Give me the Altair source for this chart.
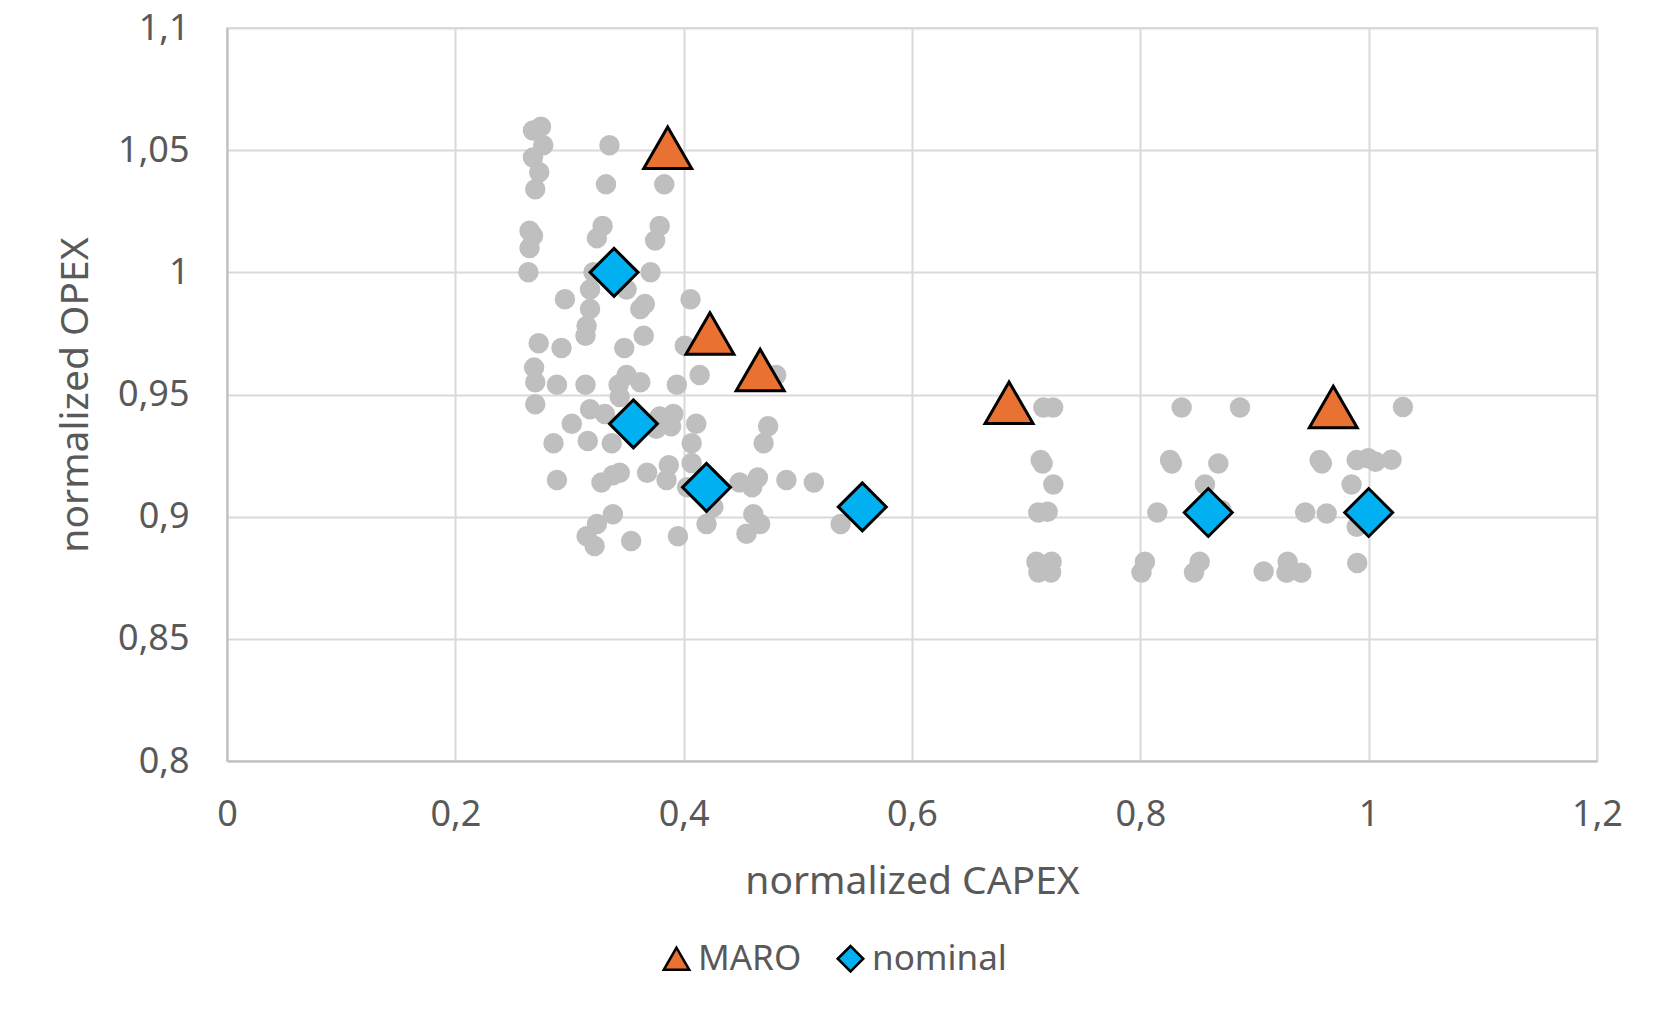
import altair as alt
import pandas as pd

# Gray cloud (normalized CAPEX, normalized OPEX)
gray_x = [
    0.275, 0.268, 0.277, 0.268, 0.2735, 0.270, 0.265, 0.268, 0.265, 0.264,
    0.273, 0.269, 0.270, 0.270,
    0.335, 0.332, 0.329, 0.324, 0.321, 0.318, 0.296, 0.318, 0.315, 0.314,
    0.293, 0.289, 0.314, 0.318, 0.331, 0.302, 0.316, 0.337, 0.286, 0.289,
    0.328, 0.338, 0.344, 0.338, 0.324, 0.315, 0.322, 0.354,
    0.383, 0.379, 0.375, 0.371, 0.350, 0.366, 0.362, 0.406, 0.348, 0.365,
    0.401, 0.414, 0.350, 0.343, 0.362, 0.344, 0.394, 0.379, 0.391, 0.376,
    0.389, 0.411, 0.407, 0.407, 0.368, 0.387, 0.385, 0.403, 0.395, 0.420,
    0.426,
    0.474, 0.470, 0.481, 0.449, 0.465, 0.460, 0.461, 0.467, 0.455, 0.490,
    0.514, 0.5375,
    0.715, 0.7236, 0.7127, 0.7144, 0.7238, 0.7106, 0.7188, 0.709, 0.7223,
    0.7107, 0.7218,
    0.8362, 0.8873, 0.826, 0.8276, 0.8683, 0.8566, 0.8149, 0.8711, 0.804,
    0.801, 0.852, 0.847,
    0.908, 0.929, 0.928, 0.941, 0.957, 0.959, 0.9895, 0.9997, 1.006, 1.020,
    1.030, 0.985, 0.9444, 0.9632, 0.9895, 0.990,
]
gray_y = [
    1.0596, 1.058, 1.052, 1.047, 1.041, 1.034, 1.017, 1.015, 1.010, 1.000,
    0.971, 0.961, 0.955, 0.946,
    1.052, 1.036, 1.019, 1.014, 1.000, 0.993, 0.989, 0.985, 0.978, 0.974,
    0.969, 0.954, 0.954, 0.944, 0.942, 0.938, 0.931, 0.930, 0.930, 0.915,
    0.914, 0.917, 0.918, 0.901, 0.897, 0.892, 0.888, 0.890,
    1.036, 1.019, 1.013, 1.000, 0.993, 0.987, 0.985, 0.989, 0.969, 0.974,
    0.970, 0.958, 0.958, 0.954, 0.955, 0.949, 0.954, 0.941, 0.942, 0.936,
    0.937, 0.938, 0.930, 0.922, 0.918, 0.921, 0.915, 0.912, 0.892, 0.897,
    0.904,
    0.937, 0.930, 0.958, 0.914, 0.916, 0.912, 0.901, 0.897, 0.893, 0.915,
    0.914, 0.897,
    0.9447, 0.9447, 0.9232, 0.9218, 0.9132, 0.9017, 0.902, 0.8815, 0.8815,
    0.8771, 0.8771,
    0.9447, 0.9447, 0.9232, 0.9218, 0.9218, 0.9132, 0.9017, 0.9027, 0.8815,
    0.8771, 0.8815, 0.8771,
    0.8776, 0.8815, 0.877, 0.877, 0.9232, 0.9218, 0.9232, 0.9239, 0.9225, 0.9233,
    0.9449, 0.9132, 0.9017, 0.9013, 0.8959, 0.881,
]

maro_x = [0.386, 0.423, 0.467, 0.685, 0.969]
maro_y = [1.051, 0.975, 0.960, 0.9466, 0.9449]

nominal_x = [0.339, 0.356, 0.420, 0.5565, 0.8595, 1.000]
nominal_y = [1.000, 0.938, 0.912, 0.904, 0.9017, 0.9017]

series_names = ["MARO", "nominal"]
series_colors = ["#E97132", "#00B0F0"]
series_shapes = ["triangle-up", "diamond"]
series_strokes = ["black", "black"]

x_ticks = [0, 0.2, 0.4, 0.6, 0.8, 1.0, 1.2]
y_ticks = [0.8, 0.85, 0.9, 0.95, 1.0, 1.05, 1.1]

gray_df = pd.DataFrame({"capex": gray_x, "opex": gray_y})
mk_df = pd.DataFrame({
    "capex": maro_x + nominal_x,
    "opex": maro_y + nominal_y,
    "series": ["MARO"] * len(maro_x) + ["nominal"] * len(nominal_x),
})

FONT = "Noto Sans"
TXT = "#595959"

xscale = alt.Scale(domain=[0, 1.2], nice=False, zero=False)
yscale = alt.Scale(domain=[0.8, 1.1], nice=False, zero=False)

xaxis = alt.Axis(
    title="normalized CAPEX", values=x_ticks, format="~g",
    labelExpr="replace(datum.label, '.', ',')",
    grid=True, gridColor="#D9D9D9", gridWidth=2,
    domainColor="#BFBFBF", domainWidth=2, ticks=False,
    labelPadding=36, labelFontSize=36, labelColor=TXT, labelFont=FONT,
    titleFontSize=39, titleColor=TXT, titleFont=FONT, titleFontWeight="normal",
    titlePadding=30, labelFlush=False,
)
yaxis = alt.Axis(
    title="normalized OPEX", values=y_ticks, format="~g",
    labelExpr="replace(datum.label, '.', ',')",
    grid=True, gridColor="#D9D9D9", gridWidth=2,
    domainColor="#BFBFBF", domainWidth=2, ticks=False,
    labelPadding=38, labelFontSize=36, labelColor=TXT, labelFont=FONT,
    titleFontSize=39, titleColor=TXT, titleFont=FONT, titleFontWeight="normal",
    titlePadding=22, labelFlush=False,
)

gray = alt.Chart(gray_df).mark_point(
    shape="circle", filled=True, color="#BFBFBF", opacity=1, size=420
).encode(
    x=alt.X("capex:Q", scale=xscale, axis=xaxis),
    y=alt.Y("opex:Q", scale=yscale, axis=yaxis),
)

legend = alt.Legend(
    title=None, orient="none", direction="horizontal",
    legendX=432, legendY=913,
    labelFontSize=35, labelColor=TXT, labelFont=FONT,
    symbolSize=650, symbolStrokeWidth=2.5,
    symbolOpacity=1, columnPadding=30, labelOffset=4,
)

markers = alt.Chart(mk_df).mark_point(
    filled=True, opacity=1, size=2300, strokeWidth=3
).encode(
    x=alt.X("capex:Q", scale=xscale),
    y=alt.Y("opex:Q", scale=yscale),
    color=alt.Color("series:N", scale=alt.Scale(domain=series_names, range=series_colors), legend=legend),
    shape=alt.Shape("series:N", scale=alt.Scale(domain=series_names, range=series_shapes), legend=legend),
    stroke=alt.Stroke("series:N", scale=alt.Scale(domain=series_names, range=series_strokes), legend=legend),
)

chart = alt.layer(gray, markers).properties(
    width=1370, height=733,
    autosize=alt.AutoSizeParams(type="none"),
    padding={"left": 219, "top": 20, "right": 48, "bottom": 257},
    background="white",
).configure_view(stroke="#D9D9D9", strokeWidth=2)

chart.save("out.html", embed_options={"renderer": "svg", "actions": False})
